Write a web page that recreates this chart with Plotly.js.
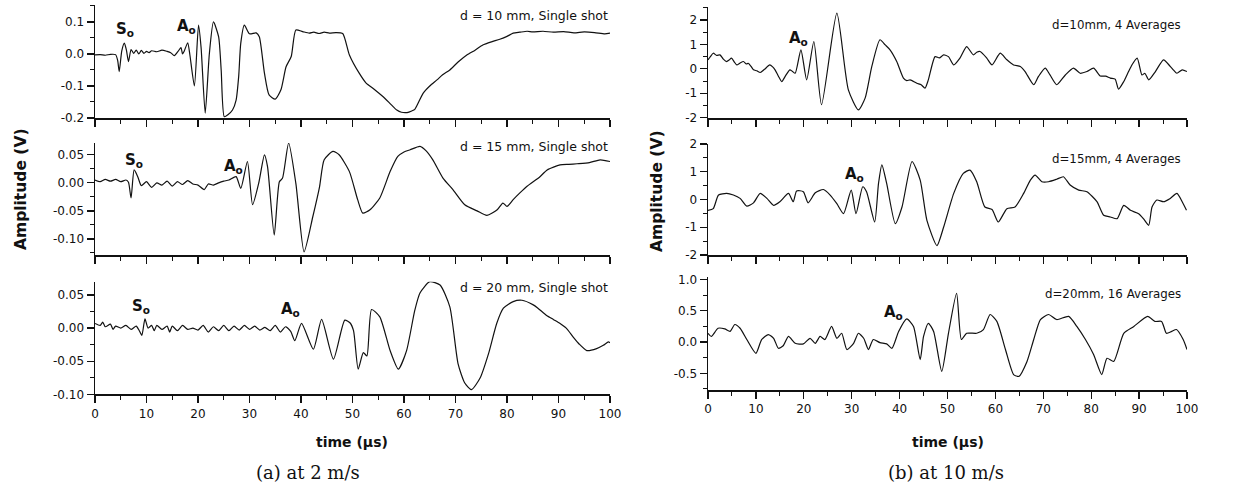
<!DOCTYPE html>
<html>
<head>
<meta charset="utf-8">
<script src="https://cdn.plot.ly/plotly-3.0.1.min.js"></script>
<style>html,body{margin:0;padding:0;background:#fff}#chart{width:1245px;height:490px}</style>
</head>
<body>
<div id="chart"></div>
<script>
// ---------- DATA (time in µs, amplitude in V) ----------
// (a) at 2 m/s, d = 10 mm, single shot
const a10 = [[0,-0.003],[1,-0.002],[2,-0.004],[3,-0.001],[4,-0.002],[4.4,-0.02],[4.7,-0.055],[5.2,0.01],[5.7,0.034],[6.1,0.012],[6.5,-0.024],[7.0,0.014],[7.5,0.002],[8.0,0.012],[8.5,0.0],[9.0,0.011],[9.5,0.002],[10,0.008],[10.5,0.004],[11,0.01],[12,0.007],[13,0.012],[14,0.008],[14.7,0.004],[15.4,-0.005],[16.2,0.01],[16.7,0.02],[17.0,0.0],[17.3,0.008],[18.0,0.035],[18.4,0.0],[19.3,-0.10],[20.1,0.09],[20.6,0.02],[21.4,-0.185],[22.2,0.0],[23.0,0.10],[24.0,0.054],[24.5,-0.05],[25.1,-0.196],[25.8,-0.19],[26.7,-0.175],[27.4,-0.144],[27.9,-0.07],[28.3,0.033],[29.0,0.09],[30.0,0.063],[31.3,0.066],[31.9,0.054],[32.9,-0.06],[33.8,-0.128],[35.0,-0.141],[36.1,-0.112],[37.1,-0.04],[38.1,-0.008],[39.0,0.075],[40.3,0.07],[41.6,0.065],[42.5,0.068],[43.5,0.064],[44.5,0.068],[45.5,0.065],[46.8,0.067],[48.1,0.064],[49.4,-0.003],[51.3,-0.06],[52.6,-0.09],[54.2,-0.11],[55.9,-0.133],[57.5,-0.158],[58.6,-0.175],[59.5,-0.182],[60.6,-0.183],[61.5,-0.178],[62.1,-0.173],[63.7,-0.123],[65,-0.1],[66.4,-0.081],[67.5,-0.065],[68.9,-0.05],[70.5,-0.025],[72.2,-0.003],[73.8,0.012],[75.3,0.028],[77,0.038],[78.6,0.046],[80,0.055],[81.2,0.065],[82.5,0.068],[83.9,0.071],[85,0.069],[87,0.071],[89,0.068],[91,0.07],[93,0.066],[95,0.069],[97,0.067],[99,0.063],[100,0.065]];
// (a) d = 15 mm
const a15 = [[0,0.005],[1,0.002],[2,0.006],[3,0.003],[4,0.006],[5,0.002],[6,0.005],[6.5,0.001],[7.0,-0.027],[7.6,0.023],[8.3,0.011],[9,-0.005],[10,0.002],[11,-0.008],[12,0.0],[13,-0.004],[14,0.003],[15,-0.006],[16,0.002],[17,-0.003],[18,0.004],[19,-0.002],[20,-0.004],[21.2,-0.012],[22,-0.002],[23,-0.004],[24,0.0],[25,0.003],[26,0.005],[27.4,0.011],[28.3,-0.01],[29.6,0.038],[30.6,-0.039],[31.8,0.0],[32.9,0.05],[33.5,0.029],[34.8,-0.093],[35.8,0.002],[36.4,0.008],[37.6,0.071],[39.0,-0.001],[40.6,-0.123],[42.3,-0.06],[43.6,-0.007],[44.5,0.041],[46.2,0.056],[47.4,0.05],[49.4,0.02],[51.0,-0.03],[52.0,-0.054],[53.4,-0.048],[55.3,-0.027],[57.3,0.02],[58.8,0.047],[60,0.055],[61.2,0.059],[63.1,0.065],[64.3,0.057],[65.6,0.041],[67.6,0.008],[69.5,-0.012],[71.8,-0.039],[74.2,-0.05],[76.1,-0.058],[78.1,-0.048],[79.2,-0.036],[80.0,-0.042],[81.2,-0.03],[82.5,-0.018],[83.9,-0.006],[86.4,0.011],[87.8,0.023],[90.3,0.032],[92,0.033],[93.6,0.034],[96,0.036],[98.1,0.041],[100,0.038]];
// (a) d = 20 mm
const a20 = [[0,0.007],[1,0.004],[1.5,0.009],[2,0.002],[3,0.006],[3.5,-0.002],[4,0.003],[5,0.0],[6,0.004],[7,-0.002],[8,0.003],[8.6,-0.004],[9.1,-0.011],[9.7,0.014],[10.3,0.0],[11,0.004],[11.5,-0.004],[12,0.004],[13,-0.002],[14,0.003],[14.5,-0.006],[15,0.003],[16,-0.004],[17,0.004],[18,-0.002],[19,0.0],[20,-0.003],[21,0.004],[22,-0.006],[23,0.002],[24,-0.004],[25,0.004],[26,-0.004],[27,0.003],[28,-0.003],[29,0.004],[30,-0.002],[31,0.003],[32,-0.003],[33,0.001],[34,-0.004],[35,0.004],[36,-0.006],[37,0.002],[38,-0.005],[38.8,-0.019],[40.1,0.007],[42.4,-0.032],[44.0,0.013],[46.3,-0.047],[48.5,0.012],[49.5,0.008],[50.2,-0.004],[51.1,-0.062],[52.1,-0.037],[52.8,-0.042],[53.7,0.028],[55.3,0.017],[57.3,-0.034],[58.9,-0.062],[60.5,-0.034],[62.1,0.027],[63.1,0.053],[65.0,0.070],[67.0,0.065],[68.9,0.032],[70.5,-0.054],[71.8,-0.083],[73.1,-0.093],[74.8,-0.075],[76.4,-0.039],[78.0,0.007],[79.3,0.030],[81.2,0.040],[82.9,0.042],[85.1,0.035],[86,0.03],[87.7,0.019],[89,0.013],[90.3,0.007],[91.5,0.0],[92.9,-0.014],[94,-0.024],[95.5,-0.034],[97.4,-0.031],[98.7,-0.026],[99.7,-0.021],[100,-0.022]];
// (b) at 10 m/s, d = 10 mm, 4 averages
const b10 = [[0,0.37],[0.5,0.5],[1.1,0.64],[1.8,0.55],[2.5,0.57],[3.2,0.4],[3.9,0.3],[4.4,0.36],[4.9,0.44],[5.5,0.28],[6.0,0.16],[6.7,0.24],[7.4,0.3],[8.0,0.2],[8.4,0.23],[9.0,0.1],[9.5,-0.04],[10.2,-0.08],[10.9,-0.15],[11.8,-0.02],[12.9,0.16],[13.5,0.08],[14.0,-0.04],[14.7,-0.3],[15.4,-0.52],[16.2,-0.28],[17.1,-0.04],[17.6,-0.1],[18.2,-0.18],[19.4,0.78],[20.6,-0.45],[22.1,1.12],[23.7,-1.47],[26.9,2.28],[29.3,-0.86],[31.4,-1.68],[32.8,-1.2],[34.2,0.1],[35.9,1.19],[37.0,0.98],[38.0,0.78],[39.4,0.3],[40.8,-0.38],[41.5,-0.48],[42.2,-0.45],[43.6,-0.59],[44.5,-0.65],[45.3,-0.79],[46.0,-0.45],[47.4,0.5],[48.3,0.45],[49.2,0.57],[50.2,0.5],[51.3,0.16],[52.6,0.44],[54.0,0.91],[55.4,0.57],[56.1,0.68],[56.8,0.71],[58.2,0.44],[59.3,0.16],[61.0,0.64],[62.4,0.37],[63.8,0.16],[65.2,0.1],[66.2,-0.11],[68.0,-0.65],[69.0,-0.31],[70.4,0.03],[71.4,-0.25],[72.8,-0.65],[74.6,-0.25],[76.3,0.03],[77.7,-0.18],[79.1,-0.11],[80.5,0.03],[81.9,-0.29],[83.0,-0.3],[84.0,-0.38],[85.0,-0.42],[85.7,-0.83],[86.8,-0.52],[87.8,-0.11],[88.5,0.16],[89.6,0.44],[90.6,-0.25],[91.2,-0.18],[92.0,-0.45],[93.4,-0.11],[95.1,0.37],[96.5,0.1],[97.2,-0.05],[97.9,-0.18],[99.0,-0.04],[100,-0.11]];
// (b) d = 15 mm, 4 averages
const b15 = [[0,-0.39],[1.1,-0.33],[2.2,0.16],[3.9,0.22],[5.3,0.16],[6.7,0.04],[8.1,-0.24],[9.5,-0.12],[10.9,0.22],[12.3,0.04],[13.7,-0.21],[15.0,-0.08],[16.8,0.22],[17.8,-0.08],[18.5,0.31],[19.9,0.28],[20.9,-0.12],[22.4,0.24],[24.1,0.36],[25.5,0.16],[26.9,-0.15],[28.3,-0.51],[29.9,0.34],[30.9,-0.51],[32.3,0.46],[33.1,0.28],[34.8,-0.81],[35.6,0.58],[36.3,1.25],[37.3,0.58],[39.1,-0.87],[40.5,-0.27],[42.6,1.37],[44.3,0.70],[45.7,-0.75],[47.8,-1.66],[49.2,-0.99],[51.3,0.22],[53.3,0.94],[54.7,1.06],[56.1,0.64],[57.8,-0.27],[59.3,-0.36],[60.6,-0.81],[62.4,-0.33],[64.1,-0.27],[65.9,0.22],[67.3,0.70],[68.3,0.88],[69.7,0.64],[71.1,0.64],[72.8,0.73],[74.2,0.82],[75.6,0.52],[77.4,0.34],[79.1,0.28],[81.2,-0.08],[82.6,-0.57],[84.0,-0.63],[85.4,-0.69],[86.8,-0.21],[88.2,-0.39],[89.9,-0.51],[90.9,-0.69],[92.0,-0.93],[92.7,-0.27],[93.7,-0.02],[95.1,-0.08],[96.5,0.04],[97.9,0.22],[99.0,-0.08],[99.9,-0.39]];
// (b) d = 20 mm, 16 averages
const b20 = [[0,0.14],[0.7,0.09],[2.1,0.22],[3.5,0.21],[4.6,0.17],[5.6,0.28],[6.7,0.22],[8.1,0.04],[10.0,-0.18],[11.2,0.04],[12.6,0.12],[13.7,0.06],[14.7,-0.10],[15.7,-0.06],[16.8,0.09],[18.2,-0.02],[19.9,-0.03],[21.3,0.06],[22.4,-0.02],[23.4,0.09],[24.4,0.04],[25.8,0.25],[26.9,0.06],[27.9,0.14],[29.0,-0.12],[30.4,-0.02],[31.4,0.14],[32.5,0.06],[33.5,-0.12],[34.5,0.04],[35.9,-0.01],[37.3,-0.03],[38.4,-0.10],[39.8,0.17],[41.5,0.37],[42.9,0.25],[44.3,-0.28],[45.0,0.09],[46.0,0.30],[47.1,0.17],[48.8,-0.47],[50.2,0.14],[51.9,0.78],[52.9,0.04],[54.0,0.14],[56.1,0.14],[57.5,0.20],[58.9,0.44],[60.3,0.33],[62.1,-0.12],[63.8,-0.52],[64.9,-0.55],[66.6,-0.31],[68.0,0.04],[69.4,0.36],[71.1,0.44],[72.8,0.36],[75.3,0.41],[77.0,0.25],[78.8,0.04],[80.5,-0.20],[82.2,-0.52],[83.3,-0.26],[84.7,-0.31],[86.8,0.14],[88.9,0.25],[91.8,0.41],[93.3,0.33],[94.7,0.33],[95.7,0.14],[96.8,0.17],[97.8,0.20],[99.2,0.04],[100,-0.12]];

// tick labels
const timeTicks = [0,10,20,30,40,50,60,70,80,90,100];
const timeLabels = ['0','10','20','30','40','50','60','70','80','90','100'];
const yTicksA10 = [0.1,0,-0.1,-0.2];           const yLabelsA10 = ['0.1','0.0','-0.1','-0.2'];
const yTicksA15 = [0.05,0,-0.05,-0.1];         const yLabelsA15 = ['0.05','0.00','-0.05','-0.10'];
const yTicksA20 = [0.05,0,-0.05,-0.1];         const yLabelsA20 = ['0.05','0.00','-0.05','-0.10'];
const yTicksB10 = [2,1,0,-1,-2];               const yLabelsB10 = ['2','1','0','-1','-2'];
const yTicksB15 = [2,1,0,-1,-2];               const yLabelsB15 = ['2','1','0','-1','-2'];
const yTicksB20 = [1,0.5,0,-0.5];              const yLabelsB20 = ['1.0','0.5','0.0','-0.5'];

const panelLabels = ['d = 10 mm, Single shot','d = 15 mm, Single shot','d = 20 mm, Single shot',
                     'd=10mm, 4 Averages','d=15mm, 4 Averages','d=20mm, 16 Averages'];

// ---------- BUILD ----------
const W = 1245, H = 490;
const px = v => v / W, py = v => 1 - v / H;
const FONT = 'DejaVu Sans, Arial, sans-serif';

const series = [a10, a15, a20, b10, b15, b20];
const traces = series.map((s, i) => ({
  x: s.map(p => p[0]), y: s.map(p => p[1]),
  type: 'scatter', mode: 'lines',
  line: {color: '#111', width: 1.2, shape: 'spline', smoothing: 0.6},
  xaxis: 'x' + (i === 0 ? '' : i + 1), yaxis: 'y' + (i === 0 ? '' : i + 1),
  hoverinfo: 'skip', showlegend: false
}));

const leftX = [px(95), px(610)], rightX = [px(708), px(1187)];
const yDomains = [[py(118), py(5)], [py(255), py(143)], [py(394.3), py(281.7)],
                  [py(117.7), py(6.7)], [py(255), py(144)], [py(390), py(277)]];
const yRanges = [[-0.2, 0.153], [-0.1286, 0.071], [-0.10, 0.070], [-2, 2.545], [-2, 2.0], [-0.767, 1.04]];
const yTV = [yTicksA10, yTicksA15, yTicksA20, yTicksB10, yTicksB15, yTicksB20];
const yTT = [yLabelsA10, yLabelsA15, yLabelsA20, yLabelsB10, yLabelsB15, yLabelsB20];
const yMinor = [0.05, 0.025, 0.025, 0.5, 0.5, 0.25];

const layout = {
  width: W, height: H, margin: {l: 0, r: 0, t: 0, b: 0},
  paper_bgcolor: '#fff', plot_bgcolor: 'rgba(0,0,0,0)',
  font: {family: FONT, size: 12, color: '#111'},
  annotations: [], showlegend: false
};

for (let i = 0; i < 6; i++) {
  const k = i === 0 ? '' : String(i + 1);
  const bottom = (i === 2 || i === 5);
  layout['xaxis' + k] = {
    domain: i < 3 ? leftX : rightX, anchor: 'y' + k, range: [0, 100],
    showgrid: false, zeroline: false, showline: true, linecolor: '#111', linewidth: 2,
    ticks: 'outside', ticklen: 7, tickwidth: 1.2, tickcolor: '#111',
    tickmode: 'array', tickvals: timeTicks, ticktext: timeLabels,
    showticklabels: bottom, tickfont: {family: FONT, size: 12, color: '#111'},
    minor: {ticks: 'outside', dtick: 5, tick0: 0, ticklen: 4, tickwidth: 1, tickcolor: '#111', showgrid: false},
    fixedrange: true
  };
  layout['yaxis' + k] = {
    domain: yDomains[i], anchor: 'x' + k, range: yRanges[i],
    showgrid: false, zeroline: false, showline: true, linecolor: '#111', linewidth: 1.5,
    ticks: 'outside', ticklen: 7, tickwidth: 1.2, tickcolor: '#111',
    tickmode: 'array', tickvals: yTV[i], ticktext: yTT[i],
    tickfont: {family: FONT, size: 12, color: '#111'},
    minor: {ticks: 'outside', dtick: yMinor[i], tick0: 0, ticklen: 4, tickwidth: 1, tickcolor: '#111', showgrid: false},
    fixedrange: true
  };
}

const ann = layout.annotations;
const addText = (text, x, y, opts) => ann.push(Object.assign({
  text, x: px(x), y: py(y), xref: 'paper', yref: 'paper', showarrow: false,
  xanchor: 'center', yanchor: 'middle', font: {family: FONT, size: 12, color: '#111'}
}, opts || {}));

// panel labels (right-aligned)
const lblPos = [[610, 15], [610, 146], [610, 287], [1183, 25], [1183, 159], [1183, 294]];
panelLabels.forEach((t, i) => addText(t, lblPos[i][0], lblPos[i][1],
  {xanchor: 'right', font: {family: FONT, size: i < 3 ? 12.5 : 11.8, color: '#111'}}));

// mode labels S0 / A0
const bold = {family: 'DejaVu Sans, Arial, sans-serif', size: 15, color: '#111'};
const modeLbl = [['S', 114, 30], ['A', 175, 27], ['S', 123, 161], ['A', 222, 166],
                 ['S', 130, 306], ['A', 279, 309], ['A', 787, 39], ['A', 843, 174], ['A', 882, 312]];
modeLbl.forEach(m => addText('<b>' + m[0] + '<sub>o</sub></b>', m[1], m[2], {xanchor: 'left', font: bold}));

// axis titles
const titleFont = {family: 'DejaVu Sans, Arial, sans-serif', size: 15.5, color: '#111'};
addText('<b>Amplitude (V)</b>', 21, 190, {textangle: -90, font: titleFont});
addText('<b>Amplitude (V)</b>', 657, 192, {textangle: -90, font: titleFont});
addText('<b>time (µs)</b>', 352, 442, {font: {family: FONT, size: 14, color: '#111'}});
addText('<b>time (µs)</b>', 948, 442, {font: {family: FONT, size: 14, color: '#111'}});
// captions
const capFont = {family: 'DejaVu Serif, Liberation Serif, serif', size: 18, color: '#111'};
addText('(a) at 2 m/s', 308, 472, {font: capFont});
addText('(b) at 10 m/s', 946, 472, {font: capFont});

Plotly.newPlot('chart', traces, layout, {staticPlot: true, displayModeBar: false});
</script>
</body>
</html>
